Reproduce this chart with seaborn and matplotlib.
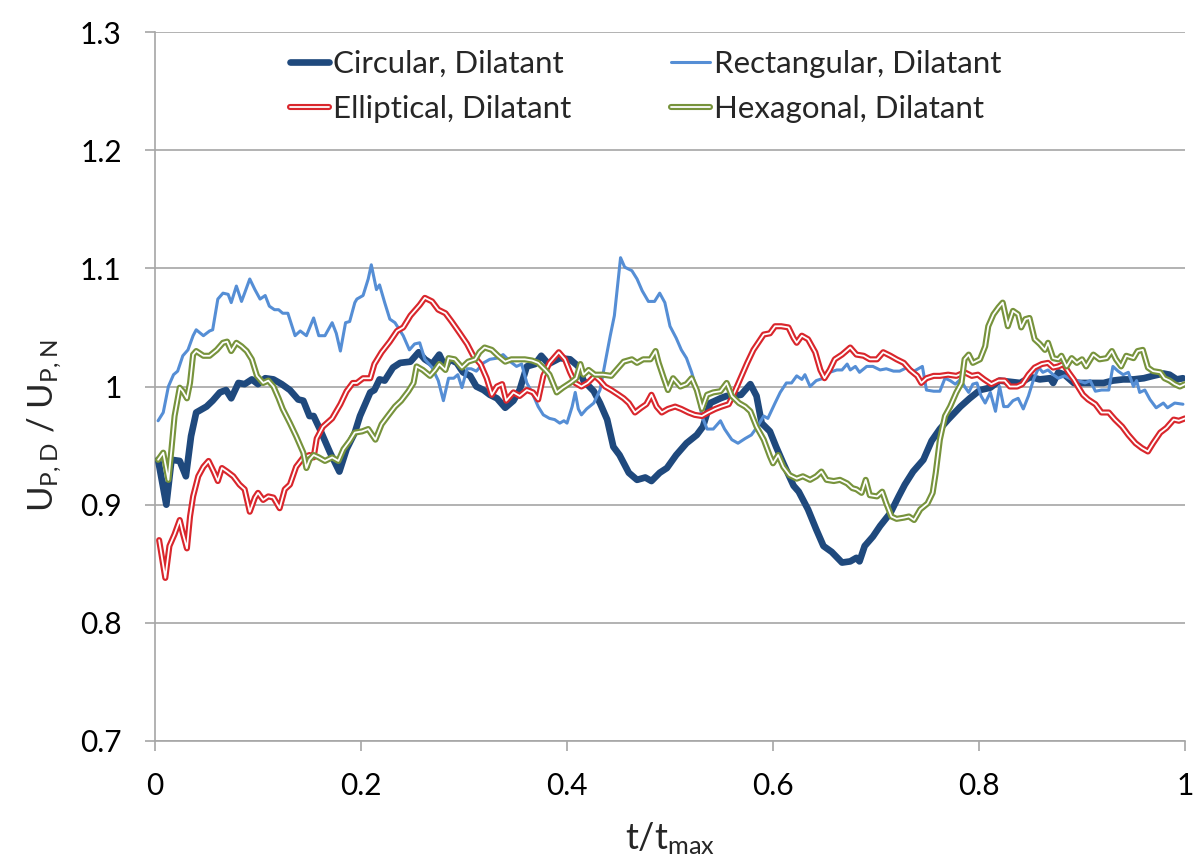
import seaborn as sns
import matplotlib.pyplot as plt
import matplotlib.patheffects as pe
import numpy as np
import pandas as pd

# Values: (t/t_max, U_P,D / U_P,N)
circular = [
    (0.003, 0.938), (0.011, 0.900), (0.016, 0.938), (0.024, 0.937), (0.030, 0.924),
    (0.035, 0.958), (0.040, 0.978), (0.050, 0.983), (0.056, 0.988), (0.063, 0.995),
    (0.069, 0.997), (0.074, 0.990), (0.081, 1.003), (0.087, 1.002), (0.094, 1.006),
    (0.100, 1.002), (0.107, 1.007), (0.115, 1.006), (0.123, 1.002), (0.131, 0.997),
    (0.139, 0.989), (0.144, 0.988), (0.150, 0.975), (0.154, 0.975), (0.160, 0.964),
    (0.170, 0.944), (0.179, 0.928), (0.186, 0.947), (0.194, 0.961),
    (0.199, 0.975), (0.209, 0.995), (0.213, 0.997), (0.218, 1.006), (0.223, 1.005),
    (0.231, 1.016), (0.238, 1.020), (0.248, 1.021), (0.256, 1.029), (0.262, 1.023),
    (0.269, 1.019), (0.276, 1.027), (0.282, 1.016), (0.286, 1.023), (0.293, 1.020),
    (0.299, 1.012), (0.306, 1.009), (0.312, 1.000), (0.319, 0.997), (0.325, 0.993),
    (0.332, 0.990), (0.340, 0.982), (0.348, 0.988), (0.354, 0.997), (0.361, 1.017),
    (0.369, 1.019), (0.375, 1.026), (0.382, 1.019),
    (0.393, 1.024), (0.403, 1.023), (0.411, 1.017), (0.416, 1.005), (0.426, 0.996),
    (0.432, 0.986), (0.439, 0.972), (0.445, 0.949), (0.451, 0.942), (0.460, 0.927),
    (0.468, 0.921), (0.476, 0.923), (0.482, 0.920), (0.490, 0.927), (0.497, 0.931),
    (0.506, 0.942), (0.516, 0.952), (0.526, 0.959), (0.532, 0.966), (0.539, 0.986),
    (0.549, 0.990), (0.555, 0.992), (0.561, 0.992), (0.569, 0.993), (0.578, 1.002),
    (0.584, 0.992), (0.589, 0.969), (0.597, 0.962), (0.603, 0.949), (0.610, 0.935),
    (0.620, 0.916), (0.625, 0.911), (0.634, 0.896), (0.642, 0.879), (0.649, 0.865),
    (0.657, 0.860), (0.667, 0.851), (0.675, 0.852), (0.681, 0.855), (0.684, 0.852),
    (0.689, 0.865), (0.697, 0.873), (0.704, 0.882), (0.714, 0.893), (0.722, 0.907),
    (0.728, 0.917), (0.736, 0.928), (0.746, 0.938), (0.754, 0.954), (0.762, 0.964),
    (0.770, 0.972),
    (0.782, 0.983), (0.791, 0.990), (0.801, 0.997), (0.811, 0.999), (0.820, 1.005),
    (0.830, 1.004), (0.840, 1.003), (0.850, 1.008), (0.859, 1.006), (0.869, 1.007),
    (0.872, 1.003), (0.877, 1.012), (0.883, 1.010), (0.892, 1.003), (0.901, 1.003),
    (0.911, 1.003), (0.921, 1.003), (0.930, 1.005), (0.940, 1.006), (0.950, 1.006),
    (0.960, 1.007), (0.969, 1.009), (0.979, 1.011), (0.985, 1.010), (0.992, 1.006),
    (0.998, 1.007),
]

rectangular = [
    (0.003, 0.971), (0.008, 0.978), (0.013, 1.000), (0.018, 1.010), (0.022, 1.013),
    (0.027, 1.026), (0.032, 1.031), (0.037, 1.043), (0.040, 1.048), (0.047, 1.043),
    (0.053, 1.047), (0.056, 1.048), (0.061, 1.074), (0.066, 1.079), (0.071, 1.078),
    (0.074, 1.071), (0.079, 1.085), (0.084, 1.072), (0.087, 1.079), (0.092, 1.091),
    (0.097, 1.082), (0.102, 1.074), (0.107, 1.077), (0.111, 1.068), (0.116, 1.065),
    (0.120, 1.065), (0.124, 1.062), (0.129, 1.062), (0.136, 1.043), (0.141, 1.047),
    (0.147, 1.043), (0.154, 1.058), (0.159, 1.043), (0.165, 1.043), (0.172, 1.054),
    (0.176, 1.045), (0.180, 1.030), (0.185, 1.054), (0.189, 1.055), (0.194, 1.071),
    (0.196, 1.074), (0.202, 1.077), (0.207, 1.091), (0.210, 1.103), (0.215, 1.082),
    (0.218, 1.086), (0.223, 1.071), (0.228, 1.057), (0.233, 1.054), (0.241, 1.043),
    (0.247, 1.031), (0.252, 1.036), (0.257, 1.037), (0.262, 1.023), (0.269, 1.016),
    (0.275, 1.005), (0.280, 0.988), (0.285, 1.007), (0.290, 1.007), (0.294, 1.010),
    (0.298, 0.999), (0.303, 1.015), (0.307, 1.015), (0.312, 1.013), (0.319, 1.020),
    (0.325, 1.023), (0.332, 1.024), (0.338, 1.027), (0.345, 1.021), (0.351, 1.017),
    (0.356, 1.019), (0.361, 1.003), (0.366, 0.995), (0.372, 0.983), (0.377, 0.976),
    (0.383, 0.973), (0.388, 0.972), (0.393, 0.969), (0.397, 0.971), (0.400, 0.969),
    (0.405, 0.983), (0.408, 0.995), (0.411, 0.981), (0.414, 0.976), (0.419, 0.981),
    (0.426, 0.986), (0.432, 0.997), (0.437, 1.020), (0.442, 1.043), (0.446, 1.060),
    (0.450, 1.093), (0.452, 1.109), (0.456, 1.101), (0.463, 1.098), (0.468, 1.091),
    (0.473, 1.081), (0.479, 1.072), (0.485, 1.072), (0.490, 1.079), (0.495, 1.071),
    (0.500, 1.051), (0.506, 1.041), (0.511, 1.031), (0.516, 1.024), (0.521, 1.012),
    (0.526, 0.997), (0.531, 0.975), (0.536, 0.964), (0.542, 0.964), (0.549, 0.971),
    (0.553, 0.964), (0.560, 0.955), (0.566, 0.952), (0.573, 0.956), (0.579, 0.959),
    (0.584, 0.965), (0.591, 0.975), (0.595, 0.973), (0.602, 0.986), (0.607, 0.995),
    (0.613, 1.003), (0.618, 1.003), (0.623, 1.009), (0.628, 1.006), (0.631, 1.010),
    (0.636, 1.000), (0.642, 1.005), (0.649, 1.007), (0.655, 1.012), (0.662, 1.014),
    (0.667, 1.014), (0.672, 1.019), (0.675, 1.014), (0.680, 1.017), (0.684, 1.012),
    (0.691, 1.017), (0.697, 1.017), (0.704, 1.014), (0.710, 1.015), (0.717, 1.013),
    (0.723, 1.013), (0.730, 1.016), (0.737, 1.013), (0.741, 1.015), (0.745, 1.017),
    (0.749, 0.997), (0.756, 0.996), (0.762, 0.996), (0.767, 1.007),
    (0.772, 1.005), (0.777, 1.002), (0.782, 1.006), (0.786, 1.000), (0.790, 0.995),
    (0.794, 1.002), (0.798, 1.003), (0.802, 0.992), (0.806, 0.986), (0.811, 0.995),
    (0.816, 0.979), (0.820, 1.000), (0.824, 0.983), (0.828, 0.983), (0.833, 0.988),
    (0.838, 0.990), (0.843, 0.981), (0.848, 0.992), (0.853, 1.006), (0.858, 1.016),
    (0.862, 1.012), (0.867, 1.014), (0.872, 1.010), (0.877, 1.007), (0.883, 1.009),
    (0.890, 1.006), (0.896, 1.005), (0.903, 1.003), (0.908, 1.005), (0.913, 0.996),
    (0.919, 0.997), (0.926, 0.997), (0.930, 1.017), (0.935, 1.013), (0.940, 1.010),
    (0.945, 1.012), (0.950, 1.000), (0.953, 1.005), (0.956, 0.995), (0.961, 0.997),
    (0.966, 0.989), (0.972, 0.982), (0.979, 0.986), (0.983, 0.982), (0.990, 0.986),
    (0.998, 0.985),
]

elliptical = [
    (0.004, 0.870), (0.010, 0.838), (0.014, 0.865), (0.019, 0.875), (0.024, 0.887),
    (0.027, 0.876), (0.031, 0.863), (0.034, 0.890), (0.037, 0.907), (0.042, 0.924),
    (0.047, 0.932), (0.052, 0.937), (0.057, 0.928), (0.061, 0.920), (0.065, 0.931),
    (0.070, 0.928), (0.076, 0.924), (0.082, 0.917), (0.087, 0.913), (0.092, 0.894),
    (0.097, 0.906), (0.100, 0.910), (0.105, 0.904), (0.110, 0.907), (0.115, 0.906),
    (0.121, 0.897), (0.126, 0.913), (0.131, 0.917), (0.137, 0.932), (0.144, 0.940),
    (0.150, 0.942), (0.154, 0.940), (0.157, 0.956), (0.163, 0.966), (0.172, 0.973),
    (0.180, 0.985), (0.186, 0.996), (0.192, 1.003),
    (0.196, 1.003), (0.202, 1.007), (0.209, 1.007), (0.213, 1.019), (0.220, 1.029),
    (0.228, 1.038), (0.235, 1.047), (0.241, 1.050), (0.248, 1.060), (0.252, 1.064),
    (0.257, 1.069), (0.262, 1.075), (0.269, 1.072), (0.275, 1.065), (0.282, 1.062),
    (0.288, 1.055), (0.296, 1.045), (0.303, 1.036), (0.309, 1.026), (0.316, 1.019),
    (0.322, 1.007), (0.327, 0.993), (0.332, 1.000), (0.337, 1.002), (0.341, 0.988),
    (0.348, 0.995), (0.354, 0.992), (0.361, 0.997), (0.367, 0.995), (0.372, 0.989),
    (0.377, 1.009),
    (0.383, 1.020), (0.392, 1.029), (0.398, 1.023), (0.403, 1.012), (0.408, 1.003),
    (0.414, 1.000), (0.420, 1.003), (0.427, 1.009), (0.432, 1.005), (0.437, 1.000),
    (0.443, 0.997), (0.450, 0.993), (0.455, 0.990), (0.460, 0.986), (0.466, 0.978),
    (0.472, 0.982), (0.477, 0.985), (0.482, 0.993), (0.487, 0.983), (0.492, 0.978),
    (0.498, 0.981), (0.505, 0.983), (0.511, 0.981), (0.518, 0.978), (0.524, 0.976),
    (0.531, 0.975), (0.537, 0.978), (0.544, 0.981), (0.550, 0.983), (0.557, 0.985),
    (0.561, 0.992), (0.568, 1.006), (0.575, 1.020), (0.581, 1.031),
    (0.591, 1.044), (0.597, 1.045), (0.602, 1.051), (0.608, 1.051), (0.615, 1.050),
    (0.620, 1.041), (0.623, 1.037), (0.628, 1.043), (0.634, 1.040), (0.641, 1.029),
    (0.646, 1.014), (0.650, 1.007), (0.655, 1.014), (0.660, 1.023), (0.667, 1.027),
    (0.675, 1.033), (0.681, 1.027), (0.688, 1.026), (0.694, 1.023), (0.701, 1.023),
    (0.707, 1.029), (0.714, 1.026), (0.720, 1.023), (0.727, 1.020), (0.733, 1.014),
    (0.740, 1.009), (0.744, 1.003), (0.749, 1.007), (0.756, 1.009), (0.762, 1.009),
    (0.770, 1.010),
    (0.778, 1.009), (0.786, 1.012), (0.793, 1.009), (0.799, 1.010), (0.805, 1.006),
    (0.812, 1.002), (0.819, 1.005), (0.825, 1.005), (0.830, 1.000), (0.837, 1.000),
    (0.842, 1.002), (0.848, 1.010), (0.854, 1.016), (0.861, 1.019), (0.867, 1.020),
    (0.872, 1.016), (0.877, 1.017), (0.882, 1.019), (0.887, 1.012), (0.892, 1.006),
    (0.896, 1.000), (0.901, 0.993), (0.906, 0.989), (0.913, 0.985), (0.919, 0.978),
    (0.926, 0.978), (0.932, 0.972), (0.939, 0.966), (0.945, 0.959), (0.952, 0.952),
    (0.958, 0.948), (0.964, 0.945), (0.969, 0.952), (0.976, 0.961), (0.982, 0.965),
    (0.989, 0.972), (0.994, 0.971), (1.000, 0.973),
]

hexagonal = [
    (0.003, 0.938), (0.008, 0.944), (0.013, 0.921), (0.016, 0.947), (0.019, 0.975),
    (0.024, 0.999), (0.027, 0.996), (0.031, 0.990), (0.034, 1.003), (0.037, 1.027),
    (0.040, 1.030), (0.047, 1.026), (0.053, 1.026), (0.060, 1.031), (0.066, 1.037),
    (0.070, 1.038), (0.074, 1.030), (0.079, 1.037), (0.084, 1.034), (0.089, 1.030),
    (0.094, 1.023), (0.099, 1.009), (0.105, 1.003), (0.110, 1.005), (0.115, 1.000),
    (0.120, 0.990), (0.124, 0.981), (0.131, 0.969), (0.137, 0.958), (0.144, 0.944),
    (0.147, 0.931), (0.150, 0.938), (0.154, 0.942), (0.159, 0.940), (0.165, 0.937),
    (0.172, 0.940), (0.178, 0.937), (0.183, 0.947), (0.189, 0.954),
    (0.194, 0.961), (0.201, 0.962), (0.207, 0.964), (0.214, 0.955), (0.220, 0.968),
    (0.226, 0.975), (0.233, 0.983), (0.239, 0.988), (0.246, 0.996), (0.251, 1.003),
    (0.254, 1.017), (0.260, 1.014), (0.267, 1.009), (0.272, 1.014), (0.276, 1.019),
    (0.282, 1.014), (0.285, 1.024), (0.291, 1.023), (0.298, 1.016), (0.304, 1.021),
    (0.311, 1.023), (0.315, 1.029), (0.320, 1.033), (0.327, 1.031), (0.333, 1.026),
    (0.340, 1.021), (0.346, 1.023), (0.353, 1.023), (0.359, 1.023), (0.366, 1.022),
    (0.372, 1.020), (0.379, 1.014),
    (0.383, 1.010), (0.390, 0.995), (0.396, 0.999), (0.403, 1.003), (0.409, 1.007),
    (0.413, 1.019), (0.416, 1.010), (0.421, 1.014), (0.427, 1.010), (0.435, 1.010),
    (0.443, 1.009), (0.448, 1.014), (0.455, 1.021), (0.463, 1.023), (0.468, 1.020),
    (0.474, 1.023), (0.481, 1.023), (0.486, 1.030), (0.489, 1.020), (0.494, 1.007),
    (0.498, 0.997), (0.503, 1.007), (0.510, 1.000), (0.516, 1.002), (0.521, 1.007),
    (0.526, 0.997), (0.531, 0.981), (0.536, 0.993), (0.542, 0.995), (0.549, 0.996),
    (0.555, 1.003), (0.560, 0.992), (0.567, 0.986), (0.573, 0.983),
    (0.578, 0.979), (0.584, 0.966), (0.591, 0.955), (0.597, 0.941), (0.600, 0.935),
    (0.605, 0.942), (0.610, 0.932), (0.616, 0.925), (0.623, 0.922), (0.629, 0.924),
    (0.636, 0.921), (0.642, 0.924), (0.647, 0.928), (0.652, 0.921), (0.659, 0.920),
    (0.665, 0.921), (0.672, 0.918), (0.677, 0.914), (0.681, 0.913), (0.686, 0.910),
    (0.690, 0.921), (0.694, 0.908), (0.701, 0.907), (0.706, 0.911), (0.710, 0.901),
    (0.715, 0.890), (0.720, 0.888), (0.727, 0.889), (0.732, 0.890), (0.737, 0.887),
    (0.743, 0.896), (0.750, 0.901), (0.755, 0.910), (0.758, 0.927), (0.762, 0.955),
    (0.767, 0.975), (0.772, 0.983),
    (0.778, 0.995), (0.783, 1.003), (0.786, 1.023), (0.790, 1.027), (0.794, 1.020),
    (0.801, 1.023), (0.806, 1.034), (0.809, 1.051), (0.814, 1.061), (0.819, 1.067),
    (0.823, 1.071), (0.828, 1.051), (0.833, 1.064), (0.838, 1.061), (0.841, 1.050),
    (0.845, 1.057), (0.849, 1.058), (0.854, 1.040), (0.859, 1.036), (0.864, 1.031),
    (0.867, 1.037), (0.872, 1.024), (0.877, 1.023), (0.880, 1.026), (0.885, 1.017),
    (0.890, 1.024), (0.895, 1.020), (0.900, 1.023), (0.904, 1.017), (0.911, 1.027),
    (0.917, 1.023), (0.924, 1.024), (0.929, 1.030), (0.933, 1.023), (0.938, 1.017),
    (0.943, 1.026), (0.950, 1.024), (0.954, 1.030), (0.959, 1.031), (0.964, 1.016),
    (0.969, 1.013), (0.976, 1.012), (0.980, 1.007), (0.985, 1.005), (0.990, 1.002),
    (0.995, 1.000), (1.000, 1.002),
]

labels = ["Circular, Dilatant", "Rectangular, Dilatant",
          "Elliptical, Dilatant", "Hexagonal, Dilatant"]
x_ticks = [0, 0.2, 0.4, 0.6, 0.8, 1]
y_ticks = [0.7, 0.8, 0.9, 1.0, 1.1, 1.2, 1.3]

sns.set_style("white")
plt.rcParams['font.family'] = ['Lato', 'DejaVu Sans']
plt.rcParams['mathtext.default'] = 'regular'

fig = plt.figure(figsize=(11.96, 8.64), dpi=100)
ax = fig.add_axes([155 / 1196, 1 - 741 / 864, 1030 / 1196, 709 / 864])

grid_col = '#a6a6a6'

# (data, colour, width, double line?)
styles = [
    (circular, '#1F497D', 4.8, False),
    (rectangular, '#558ED5', 2.2, False),
    (elliptical, '#D9262C', 4.4, True),
    (hexagonal, '#77933C', 4.4, True),
]

handles = []
for i, ((series, col, lw, double), lab) in enumerate(zip(styles, labels)):
    df = pd.DataFrame(series, columns=['t', 'u'])
    kw = dict(color=col, linewidth=lw)
    if double:
        kw = dict(color='white', linewidth=1.3,
                  path_effects=[pe.Stroke(linewidth=lw, foreground=col), pe.Normal()])
    sns.lineplot(data=df, x='t', y='u', ax=ax, estimator=None, sort=False,
                 label=lab, zorder=3 + i, legend=False, **kw)
    handles.append(ax.lines[-1])

ax.set_xlim(0, 1)
ax.set_ylim(0.7, 1.3)
ax.set_xticks(x_ticks)
ax.set_xticklabels(['0', '0.2', '0.4', '0.6', '0.8', '1'])
ax.set_yticks(y_ticks)
ax.set_yticklabels(['0.7', '0.8', '0.9', '1', '1.1', '1.2', '1.3'])

ax.yaxis.grid(True, color=grid_col, linewidth=1.2)
ax.xaxis.grid(False)
for s in ['top', 'right']:
    ax.spines[s].set_visible(False)
for s in ['left', 'bottom']:
    ax.spines[s].set_color(grid_col)
    ax.spines[s].set_linewidth(1.2)

ax.tick_params(axis='both', which='major', direction='out', length=7, width=1.2,
               color=grid_col, labelsize=21.5, labelcolor='black')
ax.tick_params(axis='x', pad=15, bottom=True)
ax.tick_params(axis='y', pad=17, left=True)

ax.set_xlabel('t/t$_{\\mathregular{max}}$', fontsize=26)
ax.xaxis.set_label_coords(0.5, -0.112)
ax.set_ylabel('U$_{\\mathregular{P,D}}$ / U$_{\\mathregular{P,N}}$', fontsize=25)
ax.yaxis.set_label_coords(-0.088, 0.445)

order = [0, 2, 1, 3]
ax.legend([handles[k] for k in order], [labels[k] for k in order],
          ncol=2, frameon=False, fontsize=22.5,
          loc='upper left', bbox_to_anchor=(290 / 1196, 1 - 50 / 864),
          bbox_transform=fig.transFigure, borderpad=0, borderaxespad=0,
          handlelength=1.25, handletextpad=0.12, columnspacing=3.2,
          labelspacing=0.55)

fig.savefig('out.png', dpi=100)
